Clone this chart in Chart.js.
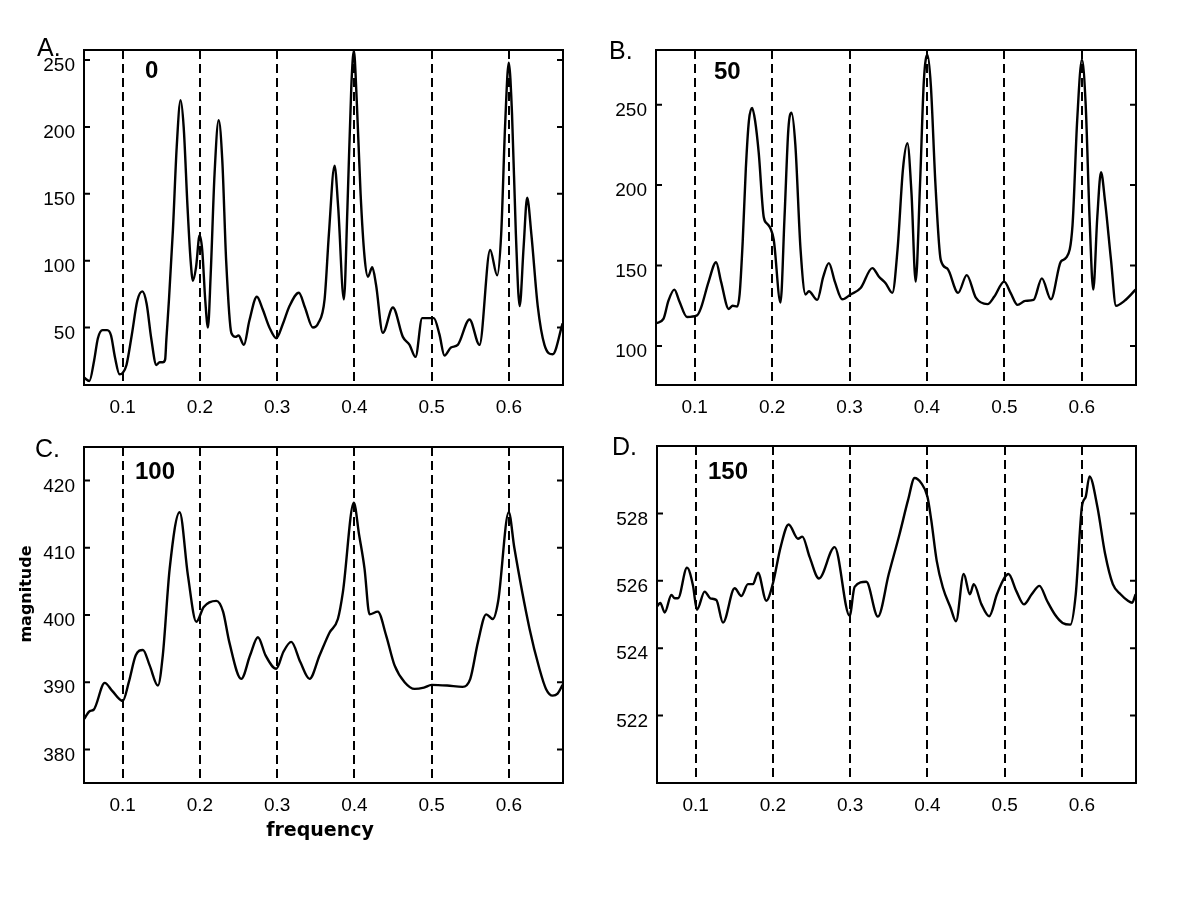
<!DOCTYPE html>
<html>
<head>
<meta charset="utf-8">
<script src="https://cdn.jsdelivr.net/npm/chart.js@4"></script>
<style>
  body { margin: 0; background: #fff; }
  canvas { position: absolute; }
</style>
</head>
<body>
<canvas id="panelA" width="600" height="430" style="left:0px;top:0px"></canvas>
<canvas id="panelB" width="600" height="430" style="left:600px;top:0px"></canvas>
<canvas id="panelC" width="600" height="470" style="left:0px;top:430px"></canvas>
<canvas id="panelD" width="600" height="470" style="left:600px;top:430px"></canvas>
<script>
// eixos
const xTicks = [0.1, 0.2, 0.3, 0.4, 0.5, 0.6];
const yTicksA = [50, 100, 150, 200, 250];
const yTicksB = [100, 150, 200, 250];
const yTicksC = [380, 390, 400, 410, 420];
const yTicksD = [522, 524, 526, 528];

// painel A (0)
const xA = [0.050, 0.057, 0.063, 0.068, 0.074, 0.080, 0.085, 0.090, 0.096, 0.100, 0.105, 0.112, 0.119, 0.1255, 0.131, 0.137, 0.1437, 0.148, 0.152, 0.155, 0.1566, 0.160, 0.1651, 0.170, 0.175, 0.179, 0.184, 0.188, 0.191, 0.195, 0.1997, 0.203, 0.207, 0.2104, 0.214, 0.219, 0.2243, 0.229, 0.234, 0.2407, 0.246, 0.250, 0.257, 0.264, 0.2738, 0.281, 0.290, 0.2989, 0.307, 0.316, 0.3281, 0.336, 0.3462, 0.353, 0.3614, 0.367, 0.3743, 0.379, 0.3864, 0.391, 0.396, 0.3993, 0.403, 0.408, 0.4131, 0.4175, 0.4231, 0.428, 0.4368, 0.4498, 0.4627, 0.4714, 0.4791, 0.4877, 0.5028, 0.510, 0.5166, 0.525, 0.5338, 0.549, 0.5619, 0.5757, 0.5848, 0.590, 0.595, 0.5998, 0.604, 0.609, 0.6139, 0.619, 0.6236, 0.629, 0.6373, 0.646, 0.6567, 0.6695];
const yA = [12.5, 10, 25, 42, 48, 48, 44, 28, 15, 16, 22, 45, 70, 77, 68, 42, 22, 24, 24, 26, 41, 71, 123, 185, 220, 200, 140, 100, 85, 95, 119, 108, 70, 50, 90, 165, 205, 175, 100, 46, 43, 44, 37, 55, 73, 64, 50, 42, 52, 66, 76, 65, 50, 53, 71, 120, 171, 140, 71, 140, 230, 257, 220, 150, 103, 88, 95, 82, 46, 65, 43, 37, 28, 57, 57, 45, 29, 35, 37, 56, 37, 108, 89, 120, 200, 248, 210, 120, 66, 110, 147, 120, 66, 37, 30, 53];

// painel B (50)
const xB = [0.050, 0.0598, 0.066, 0.0737, 0.080, 0.0901, 0.103, 0.108, 0.118, 0.1276, 0.134, 0.144, 0.149, 0.1548, 0.158, 0.162, 0.166, 0.170, 0.1742, 0.178, 0.1827, 0.1892, 0.1936, 0.1979, 0.2021, 0.2108, 0.216, 0.221, 0.225, 0.230, 0.2367, 0.2432, 0.2475, 0.2583, 0.266, 0.2733, 0.281, 0.2906, 0.3014, 0.3143, 0.3294, 0.338, 0.3466, 0.3553, 0.362, 0.369, 0.3747, 0.380, 0.3854, 0.391, 0.396, 0.4006, 0.405, 0.411, 0.4178, 0.4264, 0.4402, 0.4514, 0.4631, 0.4782, 0.487, 0.4997, 0.508, 0.517, 0.527, 0.5377, 0.5484, 0.5601, 0.573, 0.580, 0.588, 0.594, 0.6002, 0.605, 0.610, 0.6148, 0.620, 0.6248, 0.630, 0.6377, 0.6442, 0.655, 0.6695];
const yB = [114, 117, 128, 135, 128, 118, 119, 123.5, 140, 152, 140, 123, 125, 124.5, 132, 165, 210, 240, 248, 240, 220, 180, 176, 173, 166, 127, 180, 235, 245, 225, 160, 132, 134, 128.6, 143, 151.5, 140, 129, 132, 136, 148.4, 143, 139, 133, 160, 210, 226, 195, 140, 200, 265, 281, 262, 200, 153.5, 148, 133, 144, 130, 126, 130.7, 140, 133, 125.5, 128, 128.6, 142, 129, 152.5, 155, 175, 240, 278, 250, 180, 135, 180, 208, 190, 153.5, 125, 128, 135];

// painel C (100)
const xC = [0.050, 0.0574, 0.0625, 0.0768, 0.0865, 0.100, 0.108, 0.117, 0.1263, 0.135, 0.1457, 0.152, 0.1609, 0.1738, 0.1845, 0.1954, 0.205, 0.2213, 0.230, 0.238, 0.2536, 0.265, 0.2751, 0.285, 0.2989, 0.308, 0.3183, 0.330, 0.342, 0.355, 0.3679, 0.3786, 0.3851, 0.3993, 0.406, 0.4131, 0.4196, 0.4303, 0.4412, 0.452, 0.465, 0.478, 0.490, 0.500, 0.520, 0.540, 0.550, 0.560, 0.5706, 0.5791, 0.586, 0.5998, 0.607, 0.6266, 0.6395, 0.648, 0.6566, 0.663, 0.6695];
const yC = [384.5, 385.7, 385.9, 389.9, 388.7, 387.2, 390, 394, 394.8, 392.5, 389.5, 394, 406.9, 415.3, 405.9, 399, 401.2, 402.1, 400.5, 396, 390.5, 394, 396.7, 394, 392, 394.5, 396, 393, 390.5, 394, 397.4, 399.4, 403.4, 416.7, 412, 406.9, 400.1, 400.5, 396.9, 392.5, 390, 389, 389.2, 389.6, 389.5, 389.3, 390.5, 396, 400.1, 399.4, 402, 415.3, 410, 398, 392, 389, 388, 388.3, 389.6];

// painel D (150)
const xD = [0.050, 0.0543, 0.060, 0.0686, 0.073, 0.0772, 0.0888, 0.0965, 0.1017, 0.1117, 0.119, 0.1268, 0.1354, 0.1505, 0.1592, 0.1677, 0.1742, 0.1807, 0.1915, 0.200, 0.210, 0.2204, 0.2324, 0.2381, 0.2475, 0.2596, 0.2799, 0.2993, 0.3058, 0.3209, 0.3359, 0.350, 0.364, 0.375, 0.3834, 0.392, 0.400, 0.405, 0.412, 0.420, 0.430, 0.437, 0.447, 0.455, 0.460, 0.470, 0.480, 0.490, 0.500, 0.505, 0.515, 0.525, 0.535, 0.545, 0.555, 0.565, 0.575, 0.585, 0.592, 0.600, 0.605, 0.6098, 0.620, 0.630, 0.640, 0.650, 0.660, 0.665, 0.6695];
const yD = [525.24, 525.34, 525.06, 525.58, 525.48, 525.48, 526.39, 525.87, 525.14, 525.68, 525.48, 525.43, 524.76, 525.78, 525.55, 525.9, 525.9, 526.24, 525.41, 525.92, 527.0, 527.67, 527.25, 527.31, 526.71, 526.07, 527.0, 524.96, 525.82, 525.97, 524.94, 526.2, 527.39, 528.4, 529.05, 528.9, 528.5, 527.8, 526.6, 525.8, 525.2, 524.8, 526.2, 525.6, 525.9, 525.3, 524.95, 525.6, 526.1, 526.2, 525.7, 525.3, 525.6, 525.85, 525.4, 525.0, 524.75, 524.7, 525.6, 528.2, 528.5, 529.1, 528.2, 526.8, 525.9, 525.6, 525.4, 525.35, 525.6];

Chart.defaults.font.family = '"Liberation Sans", Arial, sans-serif';
Chart.defaults.color = '#000';

// moldura, marcas internas do eixo y e textos do painel
const framePlugin = {
  id: 'frame',
  afterDraw(chart, args, opts) {
    const { ctx, chartArea: a, scales } = chart;
    ctx.save();
    ctx.strokeStyle = '#000';
    ctx.lineWidth = 2;
    ctx.strokeRect(a.left, a.top, a.right - a.left, a.bottom - a.top);
    ctx.beginPath();
    scales.y.ticks.forEach(t => {
      const py = scales.y.getPixelForValue(t.value);
      ctx.moveTo(a.left, py); ctx.lineTo(a.left + 6, py);
      ctx.moveTo(a.right, py); ctx.lineTo(a.right - 6, py);
    });
    ctx.stroke();
    ctx.fillStyle = '#000';
    (opts.labels || []).forEach(l => {
      ctx.save();
      ctx.font = l.font;
      ctx.textAlign = l.align || 'left';
      ctx.textBaseline = l.baseline || 'alphabetic';
      ctx.translate(l.x, l.y);
      if (l.rotate) ctx.rotate(l.rotate);
      ctx.fillText(l.text, 0, 0);
      ctx.restore();
    });
    ctx.restore();
  }
};

function makePanel(id, xs, ys, yMin, yMax, yTicks, box, labels) {
  const ctx = document.getElementById(id).getContext('2d');
  return new Chart(ctx, {
    type: 'line',
    data: {
      datasets: [{
        data: xs.map((x, i) => ({ x: x, y: ys[i] })),
        borderColor: '#000',
        borderWidth: 2.4,
        pointRadius: 0,
        fill: false,
        cubicInterpolationMode: 'monotone'
      }]
    },
    options: {
      responsive: false,
      animation: false,
      devicePixelRatio: 1,
      layout: { padding: { top: box.padTop, right: box.padRight, left: 0, bottom: 0 } },
      plugins: {
        legend: { display: false },
        tooltip: { enabled: false },
        frame: { labels: labels }
      },
      scales: {
        x: {
          type: 'linear',
          min: 0.05,
          max: 0.67,
          afterBuildTicks: s => { s.ticks = xTicks.map(v => ({ value: v })); },
          afterFit: s => { s.height = box.xh; s.paddingLeft = 0; s.paddingRight = 0; },
          ticks: {
            padding: 11,
            font: { size: 19 },
            maxRotation: 0,
            autoSkip: false,
            callback: v => v.toFixed(1)
          },
          grid: { color: '#000', lineWidth: 2, drawTicks: false },
          border: { display: false, dash: [9, 5] }
        },
        y: {
          min: yMin,
          max: yMax,
          afterBuildTicks: s => { s.ticks = yTicks.map(v => ({ value: v })); },
          afterFit: s => { s.width = box.yw; s.paddingTop = 0; s.paddingBottom = 0; },
          ticks: {
            padding: 9,
            labelOffset: 6,
            font: { size: 19 },
            callback: v => String(v)
          },
          grid: { display: false, drawTicks: false },
          border: { display: false }
        }
      }
    },
    plugins: [framePlugin]
  });
}

const letterFont = '25px "Liberation Sans", Arial, sans-serif';
const numFont = 'bold 24px "Liberation Sans", Arial, sans-serif';

makePanel('panelA', xA, yA, 7, 257.5, yTicksA,
  { padTop: 50, padRight: 37, yw: 84, xh: 45 },
  [{ text: 'A.', x: 37, y: 56, font: letterFont },
   { text: '0', x: 145, y: 78, font: numFont }]);

makePanel('panelB', xB, yB, 75.7, 284, yTicksB,
  { padTop: 50, padRight: 64, yw: 56, xh: 45 },
  [{ text: 'B.', x: 9, y: 59, font: letterFont },
   { text: '50', x: 114, y: 79, font: numFont }]);

makePanel('panelC', xC, yC, 375, 425, yTicksC,
  { padTop: 17, padRight: 37, yw: 84, xh: 117 },
  [{ text: 'C.', x: 35, y: 27, font: letterFont },
   { text: '100', x: 135, y: 49, font: numFont },
   { text: 'magnitude', x: 27, y: 164, font: 'bold 16px "DejaVu Sans", sans-serif', align: 'center', baseline: 'middle', rotate: -Math.PI / 2 },
   { text: 'frequency', x: 320, y: 406, font: 'bold 19px "DejaVu Sans", sans-serif', align: 'center' }]);

makePanel('panelD', xD, yD, 520, 530, yTicksD,
  { padTop: 16, padRight: 64, yw: 57, xh: 117 },
  [{ text: 'D.', x: 12, y: 25, font: letterFont },
   { text: '150', x: 108, y: 49, font: numFont }]);
</script>
</body>
</html>
